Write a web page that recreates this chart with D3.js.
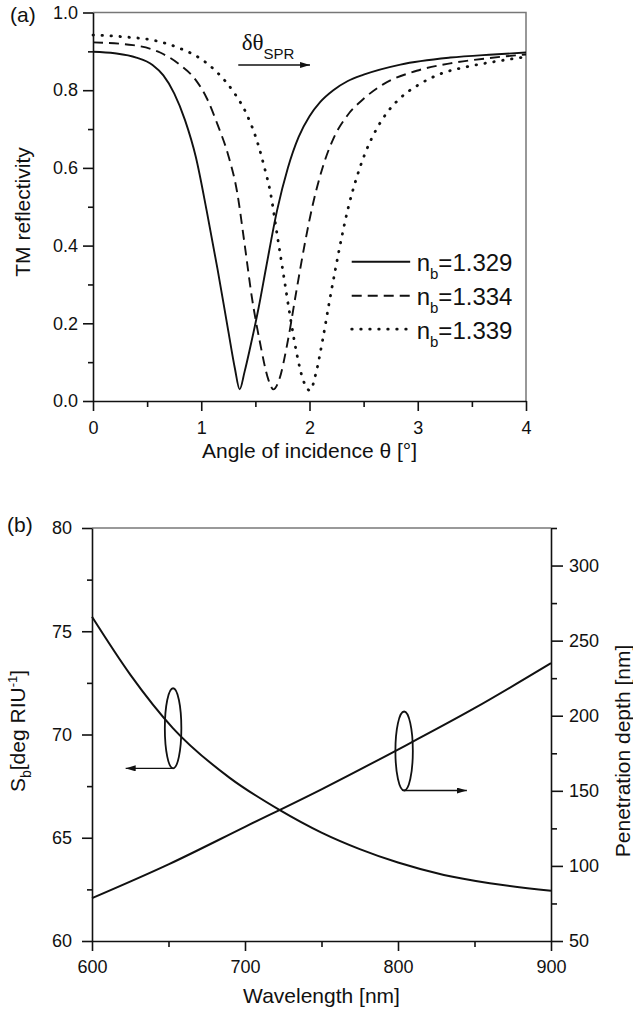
<!DOCTYPE html>
<html><head><meta charset="utf-8">
<script src="https://cdn.jsdelivr.net/npm/d3@7"></script>
<style>
body{margin:0;background:#fff}
svg{display:block}
text{font-family:"Liberation Sans",Arial,Helvetica,sans-serif;fill:#111}
</style>
</head><body>
<svg id="c" width="633" height="1009"></svg>
<script>
// ---------- Panel (a) data: TM reflectivity vs angle ----------
const theta1329 = [0,0.2,0.4,0.55,0.65,0.75,0.85,0.95,1.05,1.15,1.25,1.31,1.355,1.40,1.45,1.53,1.6,1.7,1.8,1.9,2.0,2.1,2.22,2.35,2.5,2.84,3.3,3.7,4.0];
const refl1329  = [0.899,0.895,0.884,0.865,0.838,0.792,0.723,0.628,0.490,0.340,0.180,0.085,0.030,0.075,0.135,0.240,0.345,0.490,0.600,0.680,0.733,0.770,0.800,0.823,0.840,0.866,0.884,0.892,0.897];

const theta1334 = [0,0.37,0.62,0.8,0.95,1.05,1.15,1.25,1.33,1.4,1.466,1.543,1.62,1.666,1.72,1.8,1.88,1.96,2.03,2.12,2.22,2.35,2.5,2.68,2.99,3.3,3.64,4.0];
const refl1334  = [0.923,0.916,0.897,0.866,0.826,0.780,0.712,0.632,0.540,0.405,0.270,0.150,0.055,0.030,0.055,0.155,0.285,0.410,0.505,0.600,0.675,0.735,0.778,0.815,0.850,0.869,0.882,0.892];

const theta1339 = [0,0.3,0.55,0.8,1.0,1.15,1.3,1.42,1.52,1.58,1.64,1.70,1.76,1.82,1.88,1.94,2.005,2.06,2.12,2.18,2.24,2.30,2.36,2.43,2.51,2.6,2.71,2.84,3.02,3.2,3.45,3.7,4.0];
const refl1339  = [0.942,0.937,0.929,0.908,0.880,0.845,0.795,0.738,0.665,0.605,0.535,0.430,0.325,0.220,0.125,0.055,0.027,0.072,0.155,0.250,0.340,0.425,0.500,0.570,0.635,0.690,0.740,0.780,0.816,0.841,0.860,0.873,0.886];

const seriesLabels = ["1.329","1.334","1.339"];
const thetaTicks = [0,1,2,3,4];
const thetaMinor = [0.5,1.5,2.5,3.5];
const reflTicks = [0,0.2,0.4,0.6,0.8,1.0];
const reflMinor = [0.1,0.3,0.5,0.7,0.9];

// ---------- Panel (b) data ----------
const lambdaS = [600,625,653,690,722.5,750,775,800,830,860,900];
const sensitivity = [75.7,72.9,70.3,67.9,66.35,65.25,64.45,63.8,63.2,62.8,62.43];
const lambdaD = [600,650,700,750,800,850,900];
const penDepth = [78.5,101,126,151,177.5,205,235];

const lambdaTicks = [600,700,800,900];
const lambdaMinor = [650,750,850];
const sTicks = [60,65,70,75,80];
const sMinor = [62.5,67.5,72.5,77.5];
const dTicks = [50,100,150,200,250,300];
const dMinor = [75,125,175,225,275,325];

const svg = d3.select("#c");
const defs = svg.append("defs");
defs.append("marker").attr("id","ah").attr("markerUnits","userSpaceOnUse")
  .attr("markerWidth",10).attr("markerHeight",6).attr("refX",10).attr("refY",3).attr("orient","auto")
  .append("path").attr("d","M0,0 L10,3 L0,6 Z").attr("fill","#111");

function styleAxis(g){
  g.select(".domain").attr("stroke","#111").attr("stroke-width",1.6);
  g.selectAll(".tick line").attr("stroke","#111").attr("stroke-width",1.6);
  g.selectAll(".tick text").attr("font-size",18).attr("fill","#111")
    .style("font-family",'"Liberation Sans",Arial,sans-serif');
}
function minor(g){ g.select(".domain").remove(); g.selectAll(".tick line").attr("stroke","#111").attr("stroke-width",1.6); }

// ================= Panel (a) =================
const xA = d3.scaleLinear([0,4],[93,526]);
const yA = d3.scaleLinear([0,1],[401,12.5]);

svg.append("path").attr("d",`M${xA(0)},${yA(1)} H${xA(4)} V${yA(0)}`)
  .attr("fill","none").attr("stroke","#777").attr("stroke-width",1.5);

svg.append("g").attr("transform",`translate(${xA(0)},0)`)
  .call(d3.axisLeft(yA).tickValues(reflMinor).tickSize(5).tickSizeOuter(0).tickFormat("")).call(minor);
svg.append("g").attr("transform",`translate(0,${yA(0)})`)
  .call(d3.axisBottom(xA).tickValues(thetaMinor).tickSize(6).tickSizeOuter(0).tickFormat("")).call(minor);
svg.append("g").attr("transform",`translate(${xA(0)},0)`)
  .call(d3.axisLeft(yA).tickValues(reflTicks).tickSize(10).tickPadding(5).tickSizeOuter(0).tickFormat(d3.format(".1f"))).call(styleAxis);
svg.append("g").attr("transform",`translate(0,${yA(0)})`)
  .call(d3.axisBottom(xA).tickValues(thetaTicks).tickSize(10).tickPadding(10).tickSizeOuter(0).tickFormat(d3.format("d"))).call(styleAxis);

const lineA = d3.line().x(d=>xA(d[0])).y(d=>yA(d[1])).curve(d3.curveMonotoneX);
const seriesA = [
  {t:theta1329, r:refl1329, dash:null, cap:"butt"},
  {t:theta1334, r:refl1334, dash:"10,6", cap:"butt"},
  {t:theta1339, r:refl1339, dash:"0.5,8.5", cap:"round"}
];
seriesA.forEach((s,i)=>{
  svg.append("path").datum(d3.zip(s.t,s.r)).attr("d",lineA)
    .attr("fill","none").attr("stroke","#111")
    .attr("stroke-width", i===2?2.8:1.9)
    .attr("stroke-dasharray",s.dash).attr("stroke-linecap",s.cap);
});

// legend
const legY = [0.3586,0.271,0.185];
seriesA.forEach((s,i)=>{
  const y = yA(legY[i]);
  svg.append("line").attr("x1",xA(2.39)).attr("x2",xA(2.93)).attr("y1",y).attr("y2",y)
    .attr("stroke","#111").attr("stroke-width", i===2?2.8:1.9)
    .attr("stroke-dasharray",s.dash).attr("stroke-linecap",s.cap);
  const t = svg.append("text").attr("x",xA(2.99)).attr("y",y+9.5).attr("font-size",24);
  t.append("tspan").text("n");
  t.append("tspan").attr("dy",8).attr("font-size",15).text("b");
  t.append("tspan").attr("dy",-8).text("=" + seriesLabels[i]);
});

// delta theta annotation
svg.append("line").attr("x1",xA(1.342)).attr("x2",xA(2.005)).attr("y1",yA(0.865)).attr("y2",yA(0.865))
  .attr("stroke","#111").attr("stroke-width",1.4).attr("marker-end","url(#ah)");
const dt = svg.append("text").attr("x",xA(1.373)).attr("y",yA(0.903)).attr("font-size",23);
dt.append("tspan").style("font-family",'"Liberation Serif","Times New Roman",serif').text("δθ");
dt.append("tspan").attr("dy",9).attr("font-size",15).text("SPR");

// labels
svg.append("text").attr("x",10).attr("y",22).attr("font-size",21).text("(a)");
svg.append("text").attr("transform",`translate(30,${212}) rotate(-90)`).attr("text-anchor","middle")
  .attr("font-size",21).text("TM reflectivity");
svg.append("text").attr("x",(xA(0)+xA(4))/2).attr("y",458).attr("text-anchor","middle")
  .attr("font-size",21).text("Angle of incidence θ [°]");

// ================= Panel (b) =================
const xB = d3.scaleLinear([600,900],[92,551]);
const yS = d3.scaleLinear([60,80],[941,528]);
const yD = d3.scaleLinear([50,325],[941,528]);

svg.append("line").attr("x1",xB(600)).attr("x2",xB(900)).attr("y1",yS(80)).attr("y2",yS(80))
  .attr("stroke","#777").attr("stroke-width",1.5);

svg.append("g").attr("transform",`translate(${xB(600)},0)`)
  .call(d3.axisLeft(yS).tickValues(sMinor).tickSize(5).tickSizeOuter(0).tickFormat("")).call(minor);
svg.append("g").attr("transform",`translate(${xB(900)},0)`)
  .call(d3.axisRight(yD).tickValues(dMinor).tickSize(6).tickSizeOuter(0).tickFormat("")).call(minor);
svg.append("g").attr("transform",`translate(0,${yS(60)})`)
  .call(d3.axisBottom(xB).tickValues(lambdaMinor).tickSize(6).tickSizeOuter(0).tickFormat("")).call(minor);

svg.append("g").attr("transform",`translate(${xB(600)},0)`)
  .call(d3.axisLeft(yS).tickValues(sTicks).tickSize(10).tickPadding(10).tickSizeOuter(0).tickFormat(d3.format("d"))).call(styleAxis);
svg.append("g").attr("transform",`translate(${xB(900)},0)`)
  .call(d3.axisRight(yD).tickValues(dTicks).tickSize(12).tickPadding(6).tickSizeOuter(0).tickFormat(d3.format("d"))).call(styleAxis);
svg.append("g").attr("transform",`translate(0,${yS(60)})`)
  .call(d3.axisBottom(xB).tickValues(lambdaTicks).tickSize(10).tickPadding(9).tickSizeOuter(0).tickFormat(d3.format("d"))).call(styleAxis);

const lineS = d3.line().x(d=>xB(d[0])).y(d=>yS(d[1])).curve(d3.curveMonotoneX);
const lineD = d3.line().x(d=>xB(d[0])).y(d=>yD(d[1])).curve(d3.curveMonotoneX);
svg.append("path").datum(d3.zip(lambdaS,sensitivity)).attr("d",lineS)
  .attr("fill","none").attr("stroke","#111").attr("stroke-width",2);
svg.append("path").datum(d3.zip(lambdaD,penDepth)).attr("d",lineD)
  .attr("fill","none").attr("stroke","#111").attr("stroke-width",2);

// ellipse markers with arrows
const eL = {x:653, y:70.3, rx:5.4, ry:1.94, tip:622};
svg.append("ellipse").attr("cx",xB(eL.x)).attr("cy",yS(eL.y))
  .attr("rx",xB(eL.x+eL.rx)-xB(eL.x)).attr("ry",yS(eL.y)-yS(eL.y+eL.ry))
  .attr("fill","none").attr("stroke","#111").attr("stroke-width",1.8);
svg.append("line").attr("x1",xB(eL.x)).attr("x2",xB(eL.tip)).attr("y1",yS(eL.y-eL.ry)).attr("y2",yS(eL.y-eL.ry))
  .attr("stroke","#111").attr("stroke-width",1.4).attr("marker-end","url(#ah)");

const eR = {x:804, y:176.5, rx:5.7, ry:26.3, tip:845};
svg.append("ellipse").attr("cx",xB(eR.x)).attr("cy",yD(eR.y))
  .attr("rx",xB(eR.x+eR.rx)-xB(eR.x)).attr("ry",yD(eR.y)-yD(eR.y+eR.ry))
  .attr("fill","none").attr("stroke","#111").attr("stroke-width",1.8);
svg.append("line").attr("x1",xB(eR.x)).attr("x2",xB(eR.tip)).attr("y1",yD(eR.y-eR.ry)).attr("y2",yD(eR.y-eR.ry))
  .attr("stroke","#111").attr("stroke-width",1.4).attr("marker-end","url(#ah)");

// labels
svg.append("text").attr("x",7).attr("y",532).attr("font-size",21).text("(b)");
const sl = svg.append("text").attr("transform",`translate(25,731) rotate(-90)`).attr("text-anchor","middle").attr("font-size",21);
sl.append("tspan").text("S");
sl.append("tspan").attr("dy",6).attr("font-size",14).text("b");
sl.append("tspan").attr("dy",-6).text("[deg RIU");
sl.append("tspan").attr("dy",-8).attr("font-size",13).text("-1");
sl.append("tspan").attr("dy",8).text("]");
svg.append("text").attr("transform",`translate(630,751) rotate(-90)`).attr("text-anchor","middle")
  .attr("font-size",21).text("Penetration depth [nm]");
svg.append("text").attr("x",(xB(600)+xB(900))/2).attr("y",1003).attr("text-anchor","middle")
  .attr("font-size",21).text("Wavelength [nm]");
</script>
</body></html>
